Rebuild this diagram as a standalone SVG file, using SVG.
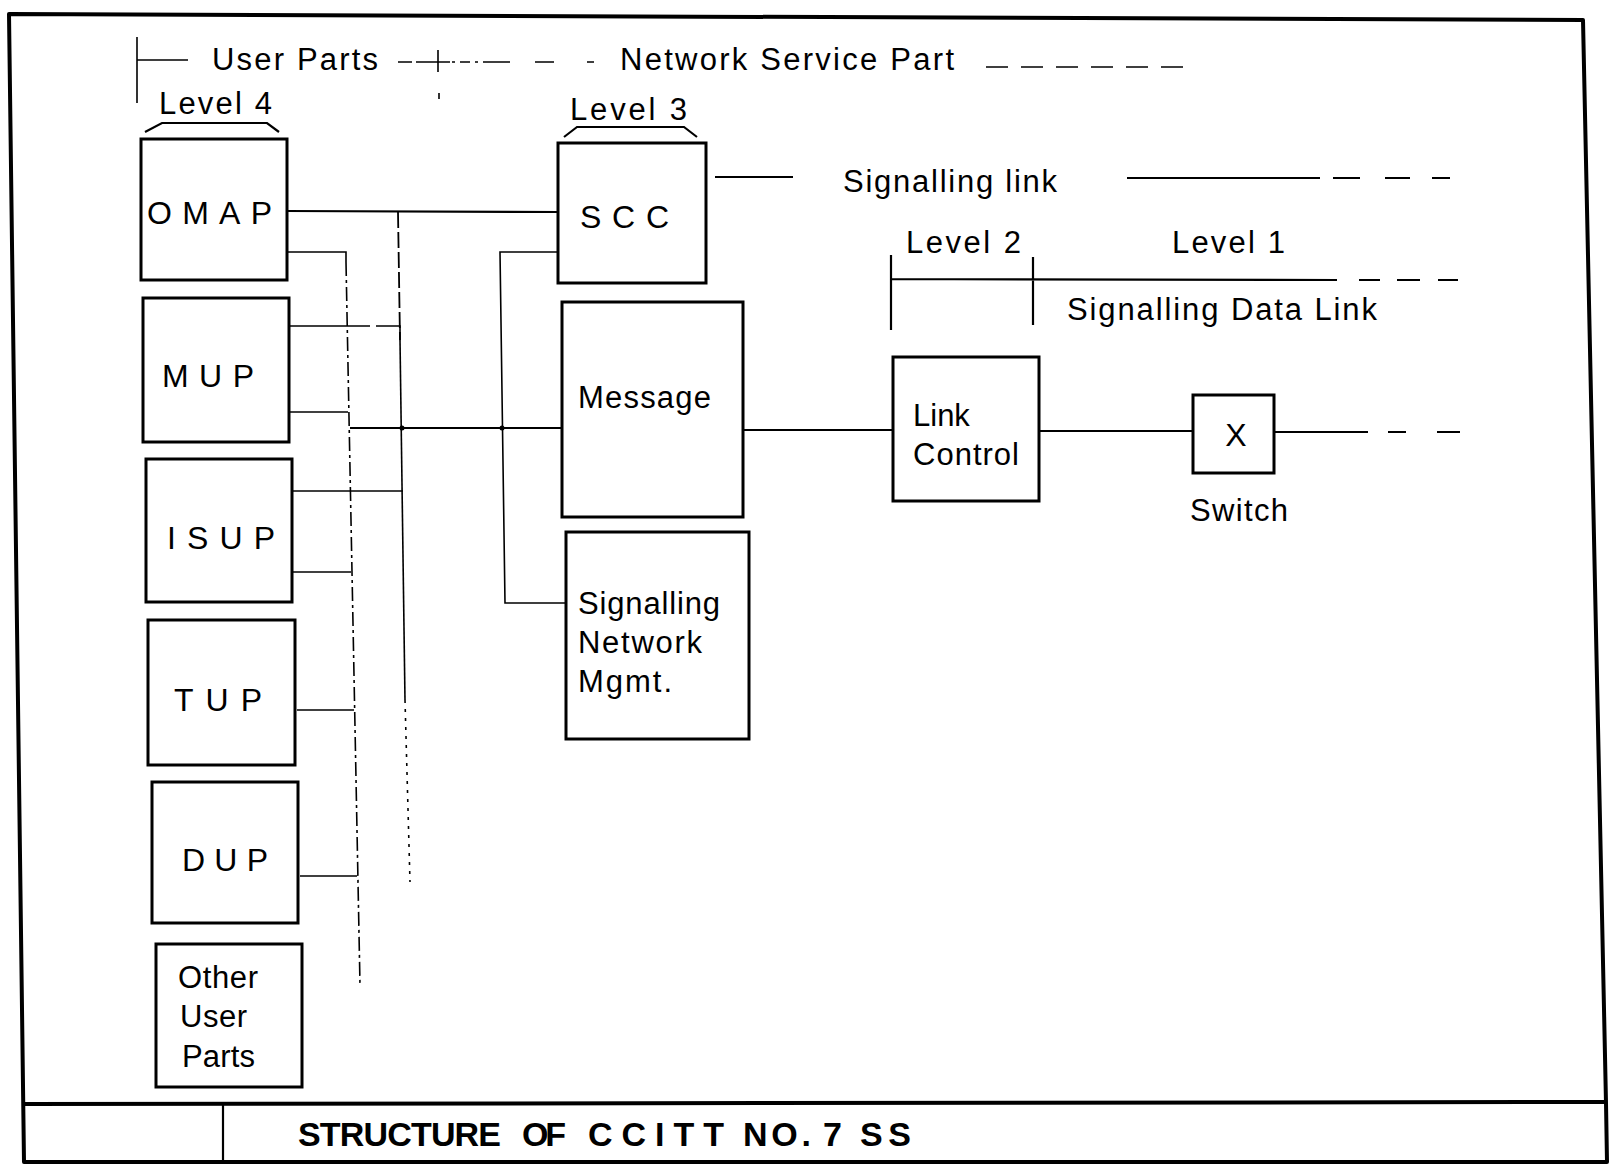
<svg xmlns="http://www.w3.org/2000/svg" width="1609" height="1165" viewBox="0 0 1609 1165">
<style>
  .frame{fill:none;stroke:#000;stroke-width:4;stroke-linejoin:round}
  .box{fill:#fff;stroke:#000;stroke-width:3}
  .ln{fill:none;stroke:#000;stroke-width:2.2}
  .thin{fill:none;stroke:#000;stroke-width:1.6}
  .dd{fill:none;stroke:#000;stroke-width:1.6;stroke-dasharray:14 4 3 4}
  .dash{fill:none;stroke:#000;stroke-width:1.8;stroke-dasharray:16 4}
  .dot{fill:none;stroke:#000;stroke-width:1.6;stroke-dasharray:3 6}
  text{font-family:"Liberation Sans",Arial,sans-serif;fill:#000}
  .hd{font-size:31px}
  .bx{font-size:32px}
  .bt{font-size:31px}
  .title{font-size:34px;font-weight:bold}
</style>
<rect width="1609" height="1165" fill="#fff"/>
<g id="frame">
  <path class="frame" d="M9,14 L1583,20 L1606,1103 L1607,1162 L24,1162 Z"/>
  <path class="frame" d="M23,1104 L1606,1102"/>
  <path class="ln" d="M223,1104 L223,1162"/>
  <text class="title" y="1146"><tspan x="298" textLength="203" lengthAdjust="spacing">STRUCTURE</tspan><tspan x="522" textLength="44" lengthAdjust="spacing">OF</tspan><tspan x="588" textLength="136" lengthAdjust="spacing">CCITT</tspan><tspan x="743" textLength="68" lengthAdjust="spacing">NO.</tspan><tspan x="823">7</tspan><tspan x="860" textLength="51" lengthAdjust="spacing">SS</tspan></text>
</g>
<g id="headers">
  <path class="thin" d="M137,37 L137,103 M137,60 L188,60"/>
  <text class="hd" x="212" y="70" textLength="166" lengthAdjust="spacing">User Parts</text>
  <path class="thin" d="M398,62 L412,62 M416,62 L450,62 M438,50 L438,72 M452,62 L455,62 M460,62 L470,62 M475,62 L478,62 M483,62 L510,62 M535,62 L554,62 M587,62 L594,62 M439,93 L439,99"/>
  <text class="hd" x="620" y="70" textLength="334" lengthAdjust="spacing">Network Service Part</text>
  <path class="thin" d="M986,67 L1008,67 M1021,67 L1043,67 M1056,67 L1078,67 M1091,67 L1113,67 M1126,67 L1148,67 M1161,67 L1183,67"/>
  <text class="hd" x="159" y="114" textLength="113" lengthAdjust="spacing">Level 4</text>
  <path class="ln" d="M145,132 L162,123 L267,123 L279,132"/>
  <text class="hd" x="570" y="120" textLength="117" lengthAdjust="spacing">Level 3</text>
  <path class="ln" d="M564,137 L577,127 L684,127 L697,137"/>
  <path class="ln" d="M715,177 L793,177"/>
  <text class="hd" x="843" y="192" textLength="214" lengthAdjust="spacing">Signalling link</text>
  <path class="ln" d="M1127,178 L1320,178 M1333,178 L1360,178 M1385,178 L1410,178 M1432,178 L1450,178"/>
  <text class="hd" x="906" y="253" textLength="115" lengthAdjust="spacing">Level 2</text>
  <text class="hd" x="1172" y="253" textLength="113" lengthAdjust="spacing">Level 1</text>
  <path class="ln" d="M891,255 L891,330 M1033,257 L1033,325 M891,279 L1337,280 M1359,280 L1380,280 M1397,280 L1420,280 M1438,280 L1458,280"/>
  <text class="hd" x="1067" y="320" textLength="310" lengthAdjust="spacing">Signalling Data Link</text>
</g>
<g id="connectors">
  <path class="ln" d="M287,211 L558,212"/>
  <path class="dash" d="M398,212 L400,340"/>
  <path class="thin" d="M400,340 L405,700"/>
  <path class="dot" d="M405,700 L410,882"/>
  <path class="thin" d="M287,252 L346,252 L346,262"/>
  <path class="dd" d="M346,262 L360,985"/>
  <path class="thin" d="M290,326 L370,326 M376,326 L400,326 L400,340"/>
  <path class="thin" d="M290,412 L348,412"/>
  <path class="ln" d="M350,428 L562,428"/>
  <circle cx="402" cy="428" r="2.5"/>
  <circle cx="502" cy="428" r="2.5"/>
  <path class="thin" d="M292,491 L403,491"/>
  <path class="thin" d="M293,572 L351,572"/>
  <path class="thin" d="M297,710 L354,710"/>
  <path class="thin" d="M300,876 L357,876"/>
  <path class="thin" d="M558,252 L500,252 L505,603 L566,603"/>
  <path class="ln" d="M743,430 L893,430"/>
  <path class="ln" d="M1039,431 L1193,431"/>
  <path class="ln" d="M1274,432 L1368,432 M1388,432 L1406,432 M1437,432 L1460,432"/>
</g>
<g id="omap">
  <rect class="box" x="141" y="139" width="146" height="141"/>
  <text class="bx" x="147" y="224" textLength="125" lengthAdjust="spacing">OMAP</text>
</g>
<g id="mup">
  <rect class="box" x="143" y="298" width="146" height="144"/>
  <text class="bx" x="162" y="387" textLength="92" lengthAdjust="spacing">MUP</text>
</g>
<g id="isup">
  <rect class="box" x="146" y="459" width="146" height="143"/>
  <text class="bx" x="167" y="549" textLength="108" lengthAdjust="spacing">ISUP</text>
</g>
<g id="tup">
  <rect class="box" x="148" y="620" width="147" height="145"/>
  <text class="bx" x="174" y="711" textLength="88" lengthAdjust="spacing">TUP</text>
</g>
<g id="dup">
  <rect class="box" x="152" y="782" width="146" height="141"/>
  <text class="bx" x="182" y="871" textLength="86" lengthAdjust="spacing">DUP</text>
</g>
<g id="other-user-parts">
  <rect class="box" x="156" y="944" width="146" height="143"/>
  <text class="bt" x="178" y="988" textLength="80" lengthAdjust="spacing">Other</text>
  <text class="bt" x="180" y="1027" textLength="67" lengthAdjust="spacing">User</text>
  <text class="bt" x="182" y="1067" textLength="73" lengthAdjust="spacing">Parts</text>
</g>
<g id="scc">
  <rect class="box" x="558" y="143" width="148" height="140"/>
  <text class="bx" x="580" y="228" textLength="89" lengthAdjust="spacing">SCC</text>
</g>
<g id="message">
  <rect class="box" x="562" y="302" width="181" height="215"/>
  <text class="bt" x="578" y="408" textLength="133" lengthAdjust="spacing">Message</text>
</g>
<g id="snm">
  <rect class="box" x="566" y="532" width="183" height="207"/>
  <text class="bt" x="578" y="614" textLength="142" lengthAdjust="spacing">Signalling</text>
  <text class="bt" x="578" y="653" textLength="124" lengthAdjust="spacing">Network</text>
  <text class="bt" x="578" y="692" textLength="94" lengthAdjust="spacing">Mgmt.</text>
</g>
<g id="link-control">
  <rect class="box" x="893" y="357" width="146" height="144"/>
  <text class="bt" x="913" y="426">Link</text>
  <text class="bt" x="913" y="465" textLength="106" lengthAdjust="spacing">Control</text>
</g>
<g id="switch">
  <rect class="box" x="1193" y="395" width="81" height="78"/>
  <text class="bx" x="1236" y="446" text-anchor="middle">X</text>
  <text class="bt" x="1190" y="521" textLength="98" lengthAdjust="spacing">Switch</text>
</g>
</svg>
